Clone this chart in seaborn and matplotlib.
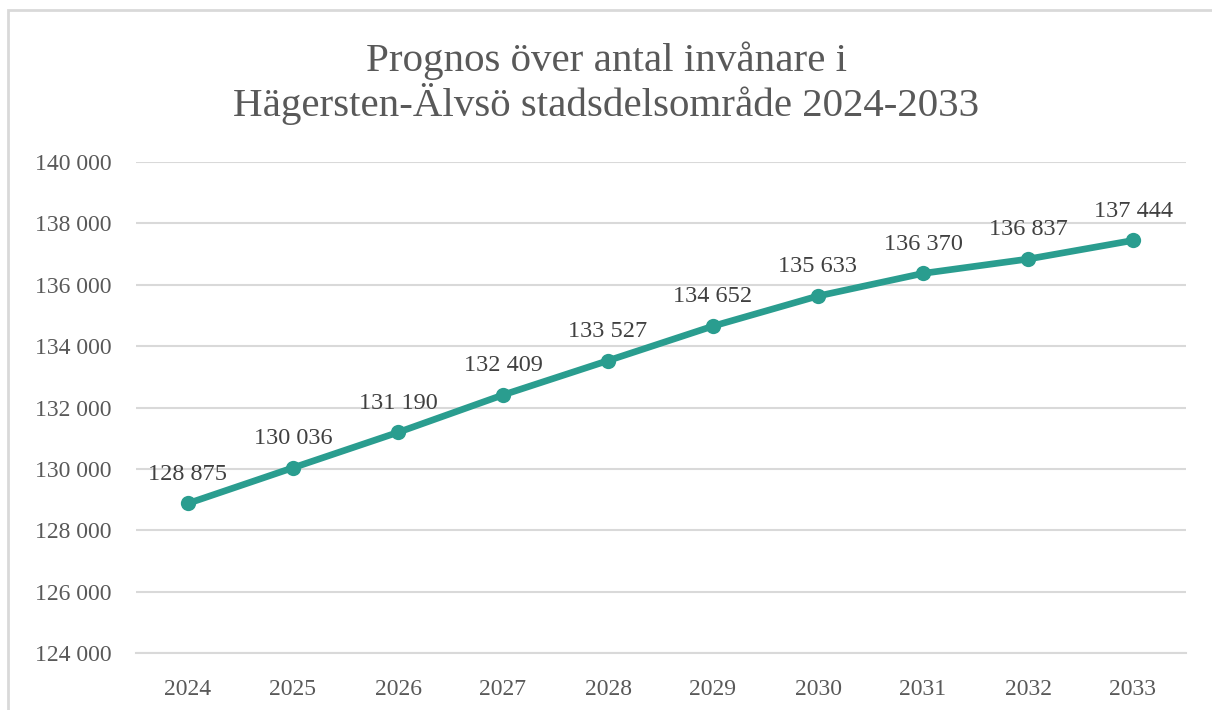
import matplotlib.pyplot as plt
import seaborn as sns
import pandas as pd
from matplotlib.patches import Rectangle
from matplotlib.ticker import FuncFormatter

years = ["2024", "2025", "2026", "2027", "2028", "2029", "2030", "2031", "2032", "2033"]
residents = [128875, 130036, 131190, 132409, 133527, 134652, 135633, 136370, 136837, 137444]
yticks = [124000, 126000, 128000, 130000, 132000, 134000, 136000, 138000, 140000]

title = "Prognos över antal invånare i\nHägersten-Älvsö stadsdelsområde 2024-2033"

teal = "#2A9D8F"
grey_text = "#595959"
grid_col = "#D9D9D9"

sns.set_style("white")
plt.rcParams["font.family"] = ["Liberation Serif", "DejaVu Serif"]

df = pd.DataFrame({"year": years, "residents": residents})

fig = plt.figure(figsize=(12.12, 7.10), dpi=100)
ax = fig.add_axes([135.5 / 1212, 1 - 653 / 710, 1050 / 1212, 491 / 710])

# light frame round the chart (right and bottom fall outside the picture)
fig.patches.append(Rectangle((8 / 1212, -0.05), 1.2, 1 - 10 / 710 + 0.05,
                             transform=fig.transFigure, fill=False,
                             edgecolor="#D9D9D9", linewidth=2))

sns.lineplot(data=df, x="year", y="residents", ax=ax, color=teal, linewidth=4.8,
             marker="o", markersize=11, markeredgewidth=0, sort=False)

for i, v in enumerate(residents):
    ax.annotate(f"{v:,}".replace(",", " "), (i, v), xytext=(0, 21),
                textcoords="offset points", ha="center", va="center",
                fontsize=17.5, color="#404040")

ax.set_xlim(-0.5, len(years) - 0.5)
ax.set_ylim(yticks[0], yticks[-1])
ax.set_yticks(yticks)
ax.yaxis.set_major_formatter(FuncFormatter(lambda v, p: f"{int(v):,}".replace(",", " ")))
ax.grid(axis="y", color=grid_col, linewidth=1.5)
ax.set_axisbelow(True)
for s in ["top", "right", "left"]:
    ax.spines[s].set_visible(False)
ax.spines["bottom"].set_color(grid_col)
ax.spines["bottom"].set_linewidth(1.5)
ax.tick_params(axis="both", length=0, labelsize=17, labelcolor=grey_text)
ax.tick_params(axis="x", pad=19)
ax.tick_params(axis="y", pad=17)
ax.set_xlabel("")
ax.set_ylabel("")

fig.suptitle(title, x=0.5, y=1 - 83 / 710, va="center", fontsize=29.5,
             color=grey_text, linespacing=1.1)

fig.savefig("out.png", dpi=100)
